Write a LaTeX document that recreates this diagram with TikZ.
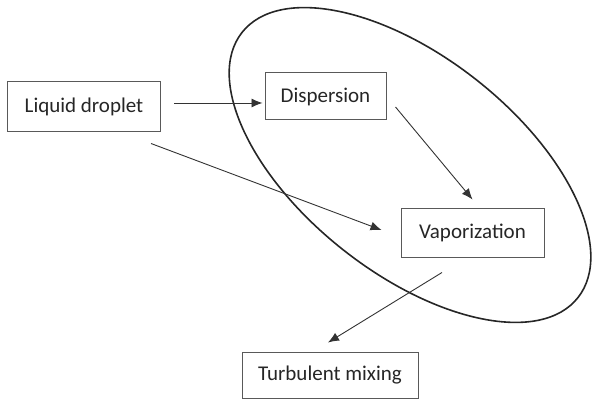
\documentclass[tikz,border=0pt]{standalone}
\usepackage{fontspec}
\setmainfont{Carlito}
\usetikzlibrary{arrows.meta,calc}
\begin{document}
\begin{tikzpicture}[x=0.5pt,y=-0.5pt,
  box/.style={draw=black!65,line width=0.5pt,inner sep=0pt,font=\fontsize{10.5}{12}\selectfont,text=black!85},
  conn/.style={draw=black!80,line width=0.45pt,-{Latex[length=5.5pt,width=4.5pt]}}]
\useasboundingbox (0,0) rectangle (592,400);
\draw[black!85,line width=0.8pt,rotate around={-38.3:(410,165)}] (410,165) ellipse [x radius=214,y radius=108];
\node[box,minimum width=76.5pt,minimum height=25pt] (L) at (84,107) {Liquid droplet};
\node[box,minimum width=60.5pt,minimum height=23.5pt] (D) at (325.5,96.5) {Dispersion};
\node[box,minimum width=71.5pt,minimum height=24pt] (V) at (472.5,233) {Vaporization};
\node[box,minimum width=88pt,minimum height=23pt] (T) at (330,375) {Turbulent mixing};
\draw[conn] ($(L.east)+(13,-4)$) -- ($(D.west)+(-2,6.5)$);
\draw[conn] ($(L.south east)+(-10,11)$) -- ($(V.west)+(-19,-3)$);
\draw[conn] ($(D.east)+(9,10.5)$) -- ($(V.north)+(0,-9)$);
\draw[conn] ($(V.south)+(-30.5,15)$) -- ($(T.north)+(-2,-9)$);
\end{tikzpicture}
\end{document}
